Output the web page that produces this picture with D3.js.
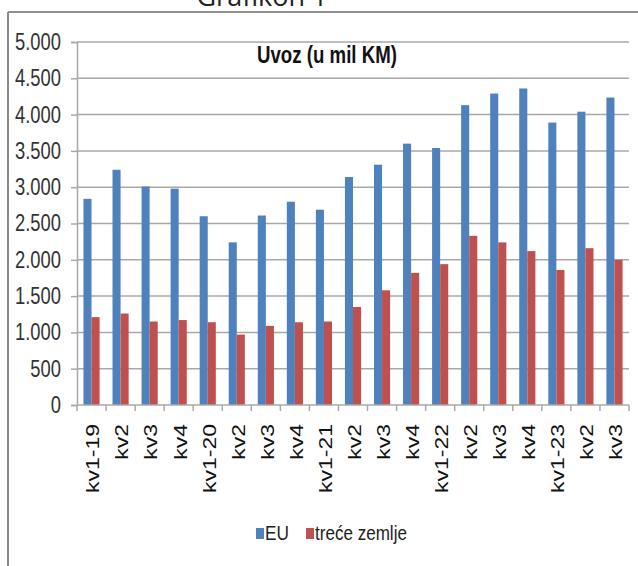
<!DOCTYPE html>
<html>
<head>
<meta charset="utf-8">
<script src="https://cdn.jsdelivr.net/npm/d3@7"></script>
<style>
  body { margin: 0; background: #fff; }
  svg { display: block; }
</style>
</head>
<body>
<script>
// quarters on the x axis (labels repeat, so bars are placed by index)
var quarters = ["kv1-19", "kv2", "kv3", "kv4", "kv1-20", "kv2", "kv3", "kv4",
                "kv1-21", "kv2", "kv3", "kv4", "kv1-22", "kv2", "kv3", "kv4",
                "kv1-23", "kv2", "kv3"];
// import from the EU, in mil KM
var euImport = [2840, 3240, 3010, 2980, 2600, 2240, 2610, 2800, 2690, 3140,
                3310, 3600, 3540, 4130, 4290, 4360, 3890, 4040, 4235];
// import from third countries, in mil KM
var thirdImport = [1210, 1260, 1150, 1170, 1140, 970, 1090, 1140, 1150, 1350,
                   1580, 1820, 1940, 2330, 2240, 2120, 1860, 2160, 2000];
var seriesNames = ["EU", "treće zemlje"];
var yTicks = [0, 500, 1000, 1500, 2000, 2500, 3000, 3500, 4000, 4500, 5000];

var w = 638;
var h = 566;
var margin = {top: 42, right: 9, bottom: 161, left: 77};
var colors = ["#4f81bd", "#c0504d"];
var sans = "'Liberation Sans', Arial, sans-serif";

var svg = d3.select("body")
            .append("svg")
            .attr("width", w)
            .attr("height", h);

// squeeze a text sideways so that it gets the width seen in the scan
function fitWidth(node, target) {
  var len = node.getComputedTextLength();
  return len > 0 ? target / len : 1;
}

// page title, cut off at the top like in the scan
svg.append("text")
   .attr("x", 262)
   .attr("y", 6)
   .attr("text-anchor", "middle")
   .style("font-family", "'Open Sans', sans-serif")
   .style("font-size", "27px")
   .style("fill", "#222")
   .text("Grafikon 1");

// frame of the chart box
svg.append("line")
   .attr("x1", 8).attr("x2", w)
   .attr("y1", 12).attr("y2", 12)
   .attr("stroke", "#6b6b6b")
   .attr("stroke-width", 1.5);
svg.append("line")
   .attr("x1", 8).attr("x2", 8)
   .attr("y1", 12).attr("y2", h)
   .attr("stroke", "#8a8a8a")
   .attr("stroke-width", 2);

// scales
var xScale = d3.scaleBand()
               .domain(d3.range(quarters.length))
               .range([margin.left, w - margin.right]);

var xInner = d3.scaleBand()
               .domain(d3.range(seriesNames.length))
               .range([0, xScale.bandwidth()])
               .paddingOuter(0.8);

var yScale = d3.scaleLinear()
               .domain([0, 5000])
               .range([h - margin.bottom, margin.top]);

var fmt = d3.formatLocale({decimal: ",", thousands: ".", grouping: [3], currency: ["", ""]}).format(",");

// gridlines
svg.append("g")
   .selectAll("line")
   .data(yTicks.filter(function(d) { return d > 0; }))
   .enter()
   .append("line")
   .attr("x1", margin.left)
   .attr("x2", w - margin.right)
   .attr("y1", function(d) { return yScale(d); })
   .attr("y2", function(d) { return yScale(d); })
   .attr("stroke", "#a8a8a8")
   .attr("stroke-width", 1.5);

// y axis
var yAxis = d3.axisLeft()
              .scale(yScale)
              .tickValues(yTicks)
              .tickFormat(fmt)
              .tickSize(6)
              .tickPadding(10);

var yG = svg.append("g")
            .attr("transform", "translate(" + margin.left + ",0)")
            .call(yAxis);
yG.selectAll("path, line").attr("stroke", "#a8a8a8").attr("stroke-width", 1.5);
var yText = yG.selectAll("text")
              .attr("x", 0)
              .style("font-family", sans)
              .style("font-size", "22px")
              .style("fill", "#333");
// "5.000" is 46px wide in the scan
var ySq = fitWidth(yText.filter(function(d) { return d == 5000; }).node(), 46);
yText.attr("transform", "translate(-16,0) scale(" + ySq + ",1.05)");

// bars, one group per quarter
var allSeries = [euImport, thirdImport];
allSeries.forEach(function(values, s) {
  svg.append("g")
     .selectAll("rect")
     .data(values)
     .enter()
     .append("rect")
     .attr("x", function(d, i) { return xScale(i) + xInner(s); })
     .attr("y", function(d) { return yScale(d); })
     .attr("width", xInner.bandwidth())
     .attr("height", function(d) { return yScale(0) - yScale(d); })
     .attr("fill", colors[s]);
});

// x axis line with ticks between the quarters
var xBase = yScale(0);
svg.append("line")
   .attr("x1", margin.left).attr("x2", w - margin.right)
   .attr("y1", xBase).attr("y2", xBase)
   .attr("stroke", "#a8a8a8")
   .attr("stroke-width", 1.5);
svg.append("g")
   .selectAll("line")
   .data(d3.range(quarters.length + 1))
   .enter()
   .append("line")
   .attr("x1", function(i) { return margin.left + i * xScale.step(); })
   .attr("x2", function(i) { return margin.left + i * xScale.step(); })
   .attr("y1", xBase)
   .attr("y2", xBase + 6)
   .attr("stroke", "#a8a8a8")
   .attr("stroke-width", 1.5);

// rotated quarter labels, "kv1-19" is 69px long in the scan
var xText = svg.append("g")
   .selectAll("text")
   .data(quarters)
   .enter()
   .append("text")
   .attr("text-anchor", "end")
   .attr("dy", "0.36em")
   .style("font-family", sans)
   .style("font-size", "19px")
   .style("fill", "#111")
   .text(function(d) { return d; });
var xSq = fitWidth(xText.node(), 69);
xText.attr("transform", function(d, i) {
  var cx = xScale(i) + xScale.bandwidth() / 2 + 1;
  return "translate(" + cx + "," + (xBase + 19) + ") rotate(-90) scale(" + xSq + ",1)";
});

// chart title, 140px wide in the scan
var title = svg.append("text")
   .attr("text-anchor", "middle")
   .style("font-family", sans)
   .style("font-weight", "bold")
   .style("font-size", "22px")
   .style("fill", "#111")
   .text("Uvoz (u mil KM)");
title.attr("transform", "translate(327,63) scale(" + fitWidth(title.node(), 140) + ",1.05)");

// legend
var legendX = [256, 306];
var legendW = [24, 92];
seriesNames.forEach(function(name, s) {
  svg.append("rect")
     .attr("x", legendX[s])
     .attr("y", 528)
     .attr("width", 8)
     .attr("height", 11)
     .attr("fill", colors[s]);
  var t = svg.append("text")
     .style("font-family", sans)
     .style("font-size", "20px")
     .style("fill", "#222")
     .text(name);
  t.attr("transform", "translate(" + (legendX[s] + 9) + ",540) scale(" + fitWidth(t.node(), legendW[s]) + ",1)");
});
</script>
</body>
</html>
